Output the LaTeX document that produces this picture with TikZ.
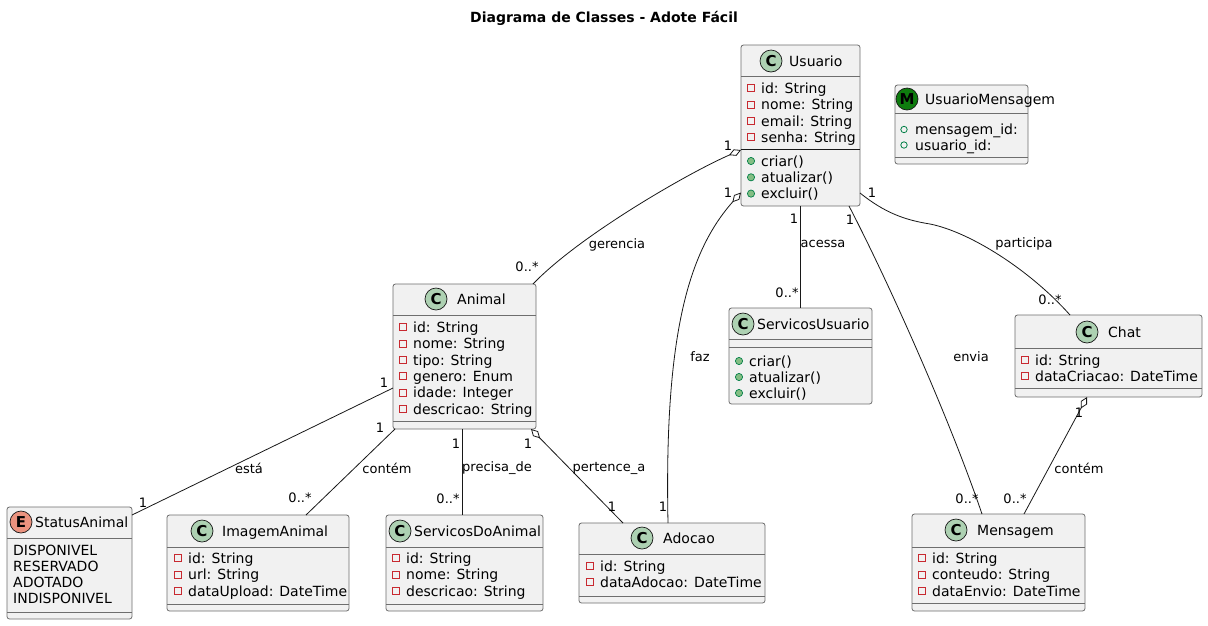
\documentclass[tikz,border=0pt]{standalone}
\usepackage{fontspec}
\setmainfont{DejaVu Sans}
\usetikzlibrary{arrows.meta}
\definecolor{boxfill}{HTML}{F1F1F1}
\definecolor{boxline}{HTML}{6E6E6E}
\definecolor{ink}{HTML}{181818}
\definecolor{privred}{HTML}{C82930}
\definecolor{pubfill}{HTML}{84BE84}
\definecolor{publine}{HTML}{038048}
\definecolor{cfill}{HTML}{ADD1B2}
\definecolor{efill}{HTML}{EB937F}
\definecolor{mfill}{HTML}{0E7C0E}
\newcounter{mbr}
\tikzset{
  classbox/.style={draw=boxline, fill=boxfill, line width=0.8pt, rounded corners=2.5pt, anchor=north west, inner sep=0pt, outer sep=0pt},
  sepline/.style={draw=boxline, line width=0.8pt},
  darksep/.style={draw=ink, line width=1pt},
  clsicon/.style={circle, draw=ink, line width=0.7pt, minimum size=22pt, inner sep=0pt, font=\bfseries\fontsize{15}{15}\selectfont},
  clsname/.style={anchor=base west, inner sep=0pt, font=\fontsize{14}{16}\selectfont},
  member/.style={anchor=base west, inner sep=0pt, font=\fontsize{14}{16}\selectfont},
  privicon/.style={draw=privred, line width=0.8pt},
  pubicon/.style={draw=publine, fill=pubfill, line width=0.7pt},
  fieldicon/.style={draw=publine, line width=0.8pt},
  conn/.style={draw=ink, line width=0.8pt},
  agg/.style={{Diamond[open,length=13pt,width=7pt]}-},
  lbl/.style={inner sep=0pt, font=\fontsize{13}{15}\selectfont},
}
\newcommand\priv[3]{\stepcounter{mbr}%
  \draw[privicon] (#1-3.5,#2-3.5) rectangle (#1+3.5,#2+3.5);
  \node[member] (mbr\arabic{mbr}) at (#1+10,#2+5) {#3};}
\newcommand\pubm[3]{\stepcounter{mbr}%
  \filldraw[pubicon] (#1,#2) circle (3.6pt);
  \node[member] (mbr\arabic{mbr}) at (#1+10,#2+5) {#3};}
\newcommand\pubf[3]{\stepcounter{mbr}%
  \draw[fieldicon] (#1,#2) circle (3.2pt);
  \node[member] (mbr\arabic{mbr}) at (#1+11,#2+5) {#3};}
\newcommand\plain[3]{\stepcounter{mbr}%
  \node[member] (mbr\arabic{mbr}) at (#1,#2+5) {#3};}
\newcommand\hsep[2]{\draw[sepline] (#1.west |- 0,#2) -- (#1.east |- 0,#2);}
% name, x, y, fill, letter, name-x, title
\newcommand\header[7]{%
  \node[clsicon, fill=#4] (#1icon) at (#2,#3) {#5};
  \node[clsname] (#1name) at (#6,#3+5) {#7};}
\begin{document}
\begin{tikzpicture}[x=1pt,y=-1pt]
\useasboundingbox (0,0) rectangle (1208,625);
\fill[white] (0,0) rectangle (1208,625);

\node[font=\bfseries\fontsize{14}{16}\selectfont, inner sep=0pt] (title) at (604,18) {Diagrama de Classes - Adote Fácil};

% ---------- class boxes ----------
\node[classbox, minimum width=119pt, minimum height=161pt] (usuario) at (741,45) {};
\node[classbox, minimum width=133pt, minimum height=79pt] (umsg) at (895,85) {};
\node[classbox, minimum width=143pt, minimum height=145pt] (animal) at (393,284) {};
\node[classbox, minimum width=143pt, minimum height=96pt] (servusr) at (729,308) {};
\node[classbox, minimum width=187pt, minimum height=82pt] (chat) at (1015,315) {};
\node[classbox, minimum width=125pt, minimum height=112pt] (status) at (7,507) {};
\node[classbox, minimum width=182pt, minimum height=96pt] (imagem) at (167,515) {};
\node[classbox, minimum width=157pt, minimum height=96pt] (servanimal) at (386,515) {};
\node[classbox, minimum width=186pt, minimum height=80pt] (adocao) at (579,523) {};
\node[classbox, minimum width=173pt, minimum height=97pt] (mensagem) at (912,514) {};

% separators
\hsep{usuario}{76}
\draw[darksep] (usuario.west |- 0,149) -- (usuario.east |- 0,149);
\hsep{umsg}{113}\hsep{umsg}{157}
\hsep{animal}{315}\hsep{animal}{421}
\hsep{servusr}{339}\hsep{servusr}{347}
\hsep{chat}{348}\hsep{chat}{388}
\hsep{status}{538}\hsep{status}{612}
\hsep{imagem}{547}\hsep{imagem}{604}
\hsep{servanimal}{547}\hsep{servanimal}{604}
\hsep{adocao}{554}\hsep{adocao}{596}
\hsep{mensagem}{547}\hsep{mensagem}{603}

% headers
\header{usuario}{771}{61}{cfill}{C}{789}{Usuario}
\header{umsg}{907}{99}{mfill}{M}{925}{UsuarioMensagem}
\header{animal}{436}{299}{cfill}{C}{457}{Animal}
\header{servusr}{743}{324}{cfill}{C}{757}{ServicosUsuario}
\header{chat}{1087}{332}{cfill}{C}{1108}{Chat}
\header{status}{21}{522}{efill}{E}{35}{StatusAnimal}
\header{imagem}{202}{531}{cfill}{C}{222}{ImagemAnimal}
\header{servanimal}{400}{531}{cfill}{C}{414}{ServicosDoAnimal}
\header{adocao}{642}{538}{cfill}{C}{663}{Adocao}
\header{mensagem}{956}{530}{cfill}{C}{977}{Mensagem}

% members
\priv{751}{88}{id: String}
\priv{751}{104.5}{nome: String}
\priv{751}{121}{email: String}
\priv{751}{137}{senha: String}
\pubm{751}{161}{criar()}
\pubm{751}{177.3}{atualizar()}
\pubm{751}{193.6}{excluir()}

\pubf{904}{129.5}{mensagem\_id:}
\pubf{904}{145}{usuario\_id:}

\priv{403}{327}{id: String}
\priv{403}{343.5}{nome: String}
\priv{403}{360}{tipo: String}
\priv{403}{376}{genero: Enum}
\priv{403}{392.5}{idade: Integer}
\priv{403}{409}{descricao: String}

\pubm{739}{361}{criar()}
\pubm{739}{377}{atualizar()}
\pubm{739}{393}{excluir()}

\priv{1025}{360}{id: String}
\priv{1025}{376}{dataCriacao: DateTime}

\plain{13}{550}{DISPONIVEL}
\plain{13}{566}{RESERVADO}
\plain{13}{582}{ADOTADO}
\plain{13}{598}{INDISPONIVEL}

\priv{178}{558}{id: String}
\priv{178}{574.5}{url: String}
\priv{178}{591}{dataUpload: DateTime}

\priv{396}{558}{id: String}
\priv{396}{574.5}{nome: String}
\priv{396}{591}{descricao: String}

\priv{590}{566}{id: String}
\priv{590}{582}{dataAdocao: DateTime}

\priv{922}{558}{id: String}
\priv{922}{574.5}{conteudo: String}
\priv{922}{591}{dataEnvio: DateTime}

% ---------- connectors ----------
\draw[conn, agg] ([yshift=-24.5pt]usuario.west) .. controls (690,172) and (580,235) .. ([xshift=-3pt]animal.north east);
\draw[conn, agg] ([yshift=-67pt]usuario.west) .. controls (690,250) and (664,330) .. ([xshift=-4pt]adocao.north);
\draw[conn] (usuario.south) -- (servusr.north);
\draw[conn] ([xshift=-11pt]usuario.south east) .. controls (890,285) and (950,420) .. ([xshift=-16.5pt]mensagem.north);
\draw[conn] ([yshift=-67.5pt]usuario.east) .. controls (885,213) and (905,220) .. (930,224) .. controls (970,232) and (1030,270) .. ([xshift=-38.5pt]chat.north);
\draw[conn] ([yshift=-31.5pt]animal.west) -- ([yshift=-8pt]status.north east);
\draw[conn] ([xshift=2pt]animal.south west) -- ([xshift=48pt]imagem.north);
\draw[conn] ([xshift=-2.5pt]animal.south) -- ([xshift=-2.5pt]servanimal.north);
\draw[conn, agg] ([xshift=-5pt]animal.south east) -- ([xshift=-49pt]adocao.north);
\draw[conn, agg] ([xshift=-21.5pt]chat.south) -- ([xshift=25.5pt]mensagem.north);

% ---------- labels ----------
\node[lbl] (lg1) at (728,146) {1};
\node[lbl] (lg2) at (527,267) {0..*};
\node[lbl] (lg3) at (617,245) {gerencia};
\node[lbl] (lf1) at (728,193) {1};
\node[lbl] (lf2) at (663,507) {1};
\node[lbl] (lf3) at (700,357) {faz};
\node[lbl] (la1) at (794,219) {1};
\node[lbl] (la2) at (787,293) {0..*};
\node[lbl] (la3) at (823,244) {acessa};
\node[lbl] (le1) at (850,220) {1};
\node[lbl] (le2) at (967,499) {0..*};
\node[lbl] (le3) at (971,357) {envia};
\node[lbl] (lp1) at (872,193) {1};
\node[lbl] (lp2) at (1050,300) {0..*};
\node[lbl] (lp3) at (1024,244) {participa};
\node[lbl] (ls1) at (384,383) {1};
\node[lbl] (ls2) at (143,503) {1};
\node[lbl] (ls3) at (249,468) {está};
\node[lbl] (lc1) at (380,428) {1};
\node[lbl] (lc2) at (300,498) {0..*};
\node[lbl] (lc3) at (387,468) {contém};
\node[lbl] (lq1) at (456,444) {1};
\node[lbl] (lq2) at (448,499) {0..*};
\node[lbl] (lq3) at (497,468) {precisa\_de};
\node[lbl] (lt1) at (528,444) {1};
\node[lbl] (lt2) at (612,507) {1};
\node[lbl] (lt3) at (609,468) {pertence\_a};
\node[lbl] (lm1) at (1079,413) {1};
\node[lbl] (lm2) at (1015,499) {0..*};
\node[lbl] (lm3) at (1079,468) {contém};
\end{tikzpicture}
\end{document}
